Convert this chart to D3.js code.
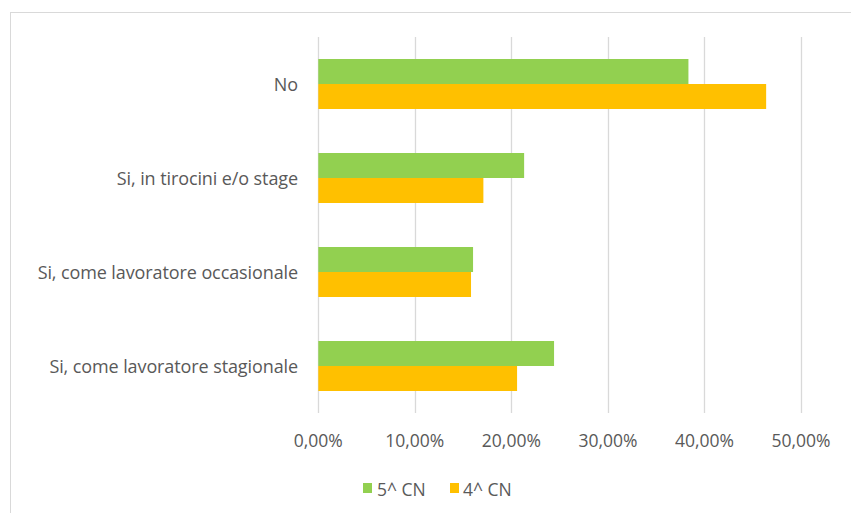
<!DOCTYPE html>
<html>
<head>
<meta charset="utf-8">
<script src="https://cdn.jsdelivr.net/npm/d3@7"></script>
<style>
html,body{margin:0;padding:0;background:#fff;}
svg{display:block;}
text{font-family:"Open Sans","Noto Sans",sans-serif;fill:#595959;}
</style>
</head>
<body>
<svg id="chart" width="851" height="513"></svg>
<script>
const categories = ["No", "Si, in tirocini e/o stage", "Si, come lavoratore occasionale", "Si, come lavoratore stagionale"];
const seriesNames = ["5^ CN", "4^ CN"];
const seriesColors = ["#92D050", "#FFC000"];
const values5 = [0.3834, 0.2132, 0.1603, 0.2442];
const values4 = [0.4639, 0.1710, 0.1582, 0.2059];
const ticks = [0, 0.1, 0.2, 0.3, 0.4, 0.5];

const svg = d3.select("#chart");
// outer chart border
svg.append("rect").attr("x", 10.5).attr("y", 12.5).attr("width", 850).attr("height", 520)
  .attr("fill", "none").attr("stroke", "#D9D9D9").attr("stroke-width", 1);

const plot = {left: 318.3, right: 801, top: 37, bottom: 413};
const x = d3.scaleLinear().domain([0, 0.5]).range([plot.left, plot.right]);
const y = d3.scaleBand().domain(categories).range([plot.top, plot.bottom]).paddingInner(0).paddingOuter(0);
const sub = d3.scaleBand().domain(seriesNames).range([0, 50]);

const fmt = v => (v * 100).toFixed(2).replace(".", ",") + "%";

// gridlines
svg.append("g").selectAll("line").data(ticks).join("line")
  .attr("x1", d => Math.round(x(d)) + 0.5).attr("x2", d => Math.round(x(d)) + 0.5)
  .attr("y1", plot.top).attr("y2", plot.bottom)
  .attr("stroke", "#D9D9D9").attr("stroke-width", 1.3);

// tick labels
svg.append("g").selectAll("text").data(ticks).join("text")
  .attr("x", d => x(d)).attr("y", 439.5)
  .attr("text-anchor", "middle").attr("dominant-baseline", "central")
  .style("font-size", "17.5px").text(fmt);

// bars
const rows = categories.map((c, i) => ({c, vals: [values5[i], values4[i]]}));
const groups = svg.append("g").selectAll("g").data(rows).join("g")
  .attr("transform", d => `translate(0,${y(d.c) + (y.bandwidth() - 50) / 2})`);
groups.selectAll("rect").data(d => d.vals.map((v, k) => ({v, k}))).join("rect")
  .attr("x", x(0)).attr("y", d => sub(seriesNames[d.k]))
  .attr("width", d => x(d.v) - x(0)).attr("height", sub.bandwidth())
  .attr("fill", d => seriesColors[d.k]);

// category labels
svg.append("g").selectAll("text").data(categories).join("text")
  .attr("x", 298).attr("y", d => y(d) + y.bandwidth() / 2)
  .attr("text-anchor", "end").attr("dominant-baseline", "central")
  .style("font-size", "18px").style("letter-spacing", "-0.1px").text(d => d);

// legend
const legendItems = [{x: 363, tx: 377}, {x: 450, tx: 463}];
const lg = svg.append("g").selectAll("g").data(seriesNames).join("g");
lg.append("rect").attr("x", (d, i) => legendItems[i].x).attr("y", 483)
  .attr("width", 9).attr("height", 10).attr("fill", (d, i) => seriesColors[i]);
lg.append("text").attr("x", (d, i) => legendItems[i].tx).attr("y", 488.5)
  .attr("dominant-baseline", "central").style("font-size", "17.5px").text(d => d);
</script>
</body>
</html>
